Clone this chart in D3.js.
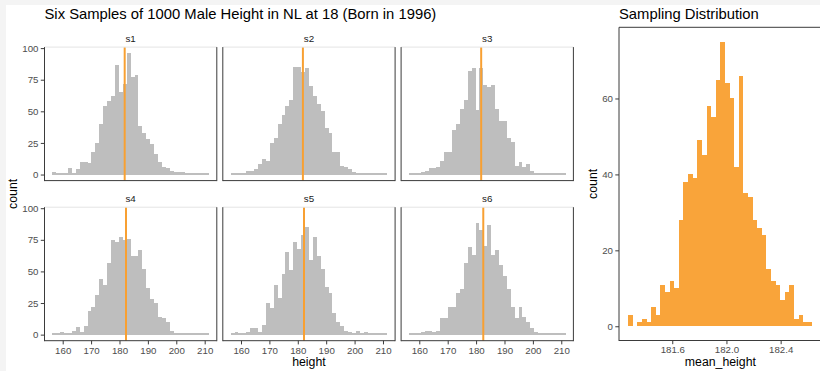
<!DOCTYPE html>
<html>
<head>
<meta charset="utf-8">
<script src="https://cdn.jsdelivr.net/npm/d3@7"></script>
<style>
  html, body { margin: 0; padding: 0; background: #f4f4f4; }
  svg { display: block; font-family: "Liberation Sans", Arial, sans-serif; }
</style>
</head>
<body>
<svg id="chart" width="820" height="371"></svg>
<script>
// ---- Six samples of 1000 heights: 40 shared bins (lower edge + width) ----
const sampleNames = ["s1", "s2", "s3", "s4", "s5", "s6"];
const heightBinStart = 156.35;
const heightBinWidth = 1.379;
const s1Counts = [2,1,1,1,5,1,4,10,10,9,18,25,40,54,58,62,87,65,72,96,77,79,38,33,28,24,16,10,6,5,3,2,2,2,1,1,1,1,1,1];
const s2Counts = [1,1,1,1,3,3,4,8,12,11,25,29,40,47,54,59,85,85,81,84,70,62,56,50,37,33,18,18,7,6,4,2,1,1,1,1,1,1,1,1];
const s3Counts = [1,1,1,2,3,5,5,6,11,18,18,35,40,52,59,82,84,51,84,71,69,71,52,42,42,29,26,7,10,6,8,3,1,1,1,1,1,1,1,1];
const s4Counts = [1,1,2,1,1,3,6,2,7,19,22,31,44,39,57,75,73,77,75,76,62,62,67,52,37,28,25,14,13,10,3,1,1,1,1,1,1,1,1,1];
const s5Counts = [1,2,1,1,2,5,5,2,8,25,21,39,29,48,65,51,73,68,79,85,59,77,62,52,38,33,17,10,7,3,2,1,3,1,2,1,1,1,1,1];
const s6Counts = [1,1,1,2,3,3,2,3,13,13,22,22,33,36,57,69,63,88,83,70,87,63,67,55,46,36,22,13,22,14,10,5,2,1,1,1,1,1,1,1];
const sampleMeans = [181.83, 181.80, 181.79, 182.29, 182.18, 182.53];
const heightTicks = [160, 170, 180, 190, 200, 210];
const countTicks = [0, 25, 50, 75, 100];

// ---- Sampling distribution of the sample mean ----
const meanBinStart = 181.275;
const meanBinWidth = 0.034;
const meanCounts = [3,0,1,2,1,5,3,11,9,12,10,28,38,40,39,49,45,58,55,65,75,64,60,42,66,35,34,28,26,24,15,12,11,7,9,11,2,3,1,1];
const meanTicks = [181.6, 182.0, 182.4];
const meanCountTicks = [0, 20, 40, 60];

// ---- styling ----
const barGrey = "#bebebe";
const orange = "#f9a43a";
const lineOrange = "#f8a032";
const axisDark = "#3b3b3b";
const tickText = "#4d4d4d";

const svg = d3.select("#chart");
svg.append("rect").attr("x", 6).attr("y", 5).attr("width", 814).attr("height", 366).attr("fill", "#fff");

function styleAxis(g) {
  g.select(".domain").remove();
  g.attr("font-family", null).attr("font-size", null);
  g.selectAll(".tick line").attr("stroke", axisDark).attr("stroke-width", 1);
  g.selectAll(".tick text").attr("fill", tickText).style("font-size", "9.7px");
}

// ---- faceted histograms ----
const sampleCounts = [s1Counts, s2Counts, s3Counts, s4Counts, s5Counts, s6Counts];
const nBins = s1Counts.length;
const hLo = heightBinStart, hHi = heightBinStart + nBins * heightBinWidth;
const hPad = 0.05 * (hHi - hLo);
const maxCount = d3.max(sampleCounts.flat());
const cPad = 0.05 * maxCount;

const panelW = 172.3, panelGap = 6.0, panelH = 133.5;
const colX = [0, 1, 2].map(c => 44.5 + c * (panelW + panelGap));
const rowY = [47.1, 207.2];

const xH = d3.scaleLinear().domain([hLo - hPad, hHi + hPad]).range([0, panelW]);
const yC = d3.scaleLinear().domain([-cPad, maxCount + cPad]).range([panelH, 0]);

sampleNames.forEach((name, i) => {
  const col = i % 3, row = Math.floor(i / 3);
  const g = svg.append("g").attr("transform", `translate(${colX[col]},${rowY[row]})`);

  g.selectAll("rect.bar")
    .data(sampleCounts[i])
    .join("rect")
    .attr("class", "bar")
    .attr("x", (d, k) => xH(hLo + k * heightBinWidth))
    .attr("width", (d, k) => xH(hLo + (k + 1) * heightBinWidth) - xH(hLo + k * heightBinWidth))
    .attr("y", d => yC(d))
    .attr("height", d => yC(0) - yC(d))
    .attr("fill", barGrey)
    .attr("shape-rendering", "crispEdges");

  g.append("line")
    .attr("x1", xH(sampleMeans[i])).attr("x2", xH(sampleMeans[i]))
    .attr("y1", 0).attr("y2", panelH)
    .attr("stroke", lineOrange).attr("stroke-width", 2);

  // panel frame: light top edge, dark sides and bottom
  g.append("line").attr("x1", 0).attr("x2", panelW).attr("y1", 0).attr("y2", 0)
    .attr("stroke", "#e4e4e4").attr("stroke-width", 1);
  g.append("line").attr("x1", 0).attr("x2", 0).attr("y1", 0).attr("y2", panelH + 0.5)
    .attr("stroke", axisDark).attr("stroke-width", 1);
  g.append("line").attr("x1", panelW).attr("x2", panelW).attr("y1", 0).attr("y2", panelH + 0.5)
    .attr("stroke", axisDark).attr("stroke-width", 1);
  g.append("line").attr("x1", 0).attr("x2", panelW).attr("y1", panelH).attr("y2", panelH)
    .attr("stroke", axisDark).attr("stroke-width", 1);

  g.append("text")
    .attr("x", panelW / 2).attr("y", -5.6)
    .attr("text-anchor", "middle")
    .attr("fill", "#1a1a1a")
    .style("font-size", "9.8px")
    .text(name);

  if (col === 0) {
    g.append("g")
      .call(d3.axisLeft(yC).tickValues(countTicks).tickSize(3.7).tickPadding(2.3))
      .call(styleAxis);
  }
  if (row === 1) {
    g.append("g")
      .attr("transform", `translate(0,${panelH})`)
      .call(d3.axisBottom(xH).tickValues(heightTicks).tickSize(3.7).tickPadding(2.3))
      .call(styleAxis);
  }
});

// facet axis titles and title
svg.append("text")
  .attr("x", (colX[0] + colX[2] + panelW) / 2).attr("y", 366)
  .attr("text-anchor", "middle").attr("fill", "#000")
  .style("font-size", "12.3px")
  .text("height");
svg.append("text")
  .attr("transform", `translate(16.8,${(rowY[0] + rowY[1] + panelH) / 2}) rotate(-90)`)
  .attr("text-anchor", "middle").attr("fill", "#000")
  .style("font-size", "12.3px")
  .text("count");
svg.append("text")
  .attr("x", 44.5).attr("y", 18.5)
  .attr("fill", "#000")
  .style("font-size", "14.8px")
  .text("Six Samples of 1000 Male Height in NL at 18 (Born in 1996)");

// ---- sampling distribution panel ----
const sdX0 = 619, sdY0 = 27.3, sdY1 = 340.5;
const mLo = meanBinStart, mHi = meanBinStart + meanCounts.length * meanBinWidth;
const mPad = 0.05 * (mHi - mLo);
const pxPerUnit = 135.5;
const sdX1 = sdX0 + (mHi - mLo + 2 * mPad) * pxPerUnit;
const mMax = d3.max(meanCounts);
const xM = d3.scaleLinear().domain([mLo - mPad, mHi + mPad]).range([sdX0, sdX1]);
const yM = d3.scaleLinear().domain([-0.05 * mMax, mMax * 1.05]).range([sdY1, sdY0]);

const sd = svg.append("g");
sd.selectAll("rect.mbar")
  .data(meanCounts)
  .join("rect")
  .attr("class", "mbar")
  .attr("x", (d, k) => xM(mLo + k * meanBinWidth))
  .attr("width", (d, k) => xM(mLo + (k + 1) * meanBinWidth) - xM(mLo + k * meanBinWidth))
  .attr("y", d => yM(d))
  .attr("height", d => yM(0) - yM(d))
  .attr("fill", orange)
  .attr("shape-rendering", "crispEdges");

sd.append("line").attr("x1", sdX0).attr("x2", sdX1).attr("y1", sdY0).attr("y2", sdY0)
  .attr("stroke", axisDark).attr("stroke-width", 1);
sd.append("line").attr("x1", sdX0).attr("x2", sdX0).attr("y1", sdY0).attr("y2", sdY1 + 0.5)
  .attr("stroke", axisDark).attr("stroke-width", 1);
sd.append("line").attr("x1", sdX0).attr("x2", sdX1).attr("y1", sdY1).attr("y2", sdY1)
  .attr("stroke", axisDark).attr("stroke-width", 1);

sd.append("g")
  .attr("transform", `translate(${sdX0},0)`)
  .call(d3.axisLeft(yM).tickValues(meanCountTicks).tickSize(3.7).tickPadding(2.3))
  .call(styleAxis);
sd.append("g")
  .attr("transform", `translate(0,${sdY1})`)
  .call(d3.axisBottom(xM).tickValues(meanTicks).tickFormat(d3.format(".1f")).tickSize(3.7).tickPadding(2.3))
  .call(styleAxis);

svg.append("text")
  .attr("x", (sdX0 + sdX1) / 2).attr("y", 366)
  .attr("text-anchor", "middle").attr("fill", "#000")
  .style("font-size", "12.3px")
  .text("mean_height");
svg.append("text")
  .attr("transform", `translate(596.7,${(sdY0 + sdY1) / 2}) rotate(-90)`)
  .attr("text-anchor", "middle").attr("fill", "#000")
  .style("font-size", "12.3px")
  .text("count");
svg.append("text")
  .attr("x", sdX0).attr("y", 18.5)
  .attr("fill", "#000")
  .style("font-size", "14.8px")
  .text("Sampling Distribution");
</script>
</body>
</html>
